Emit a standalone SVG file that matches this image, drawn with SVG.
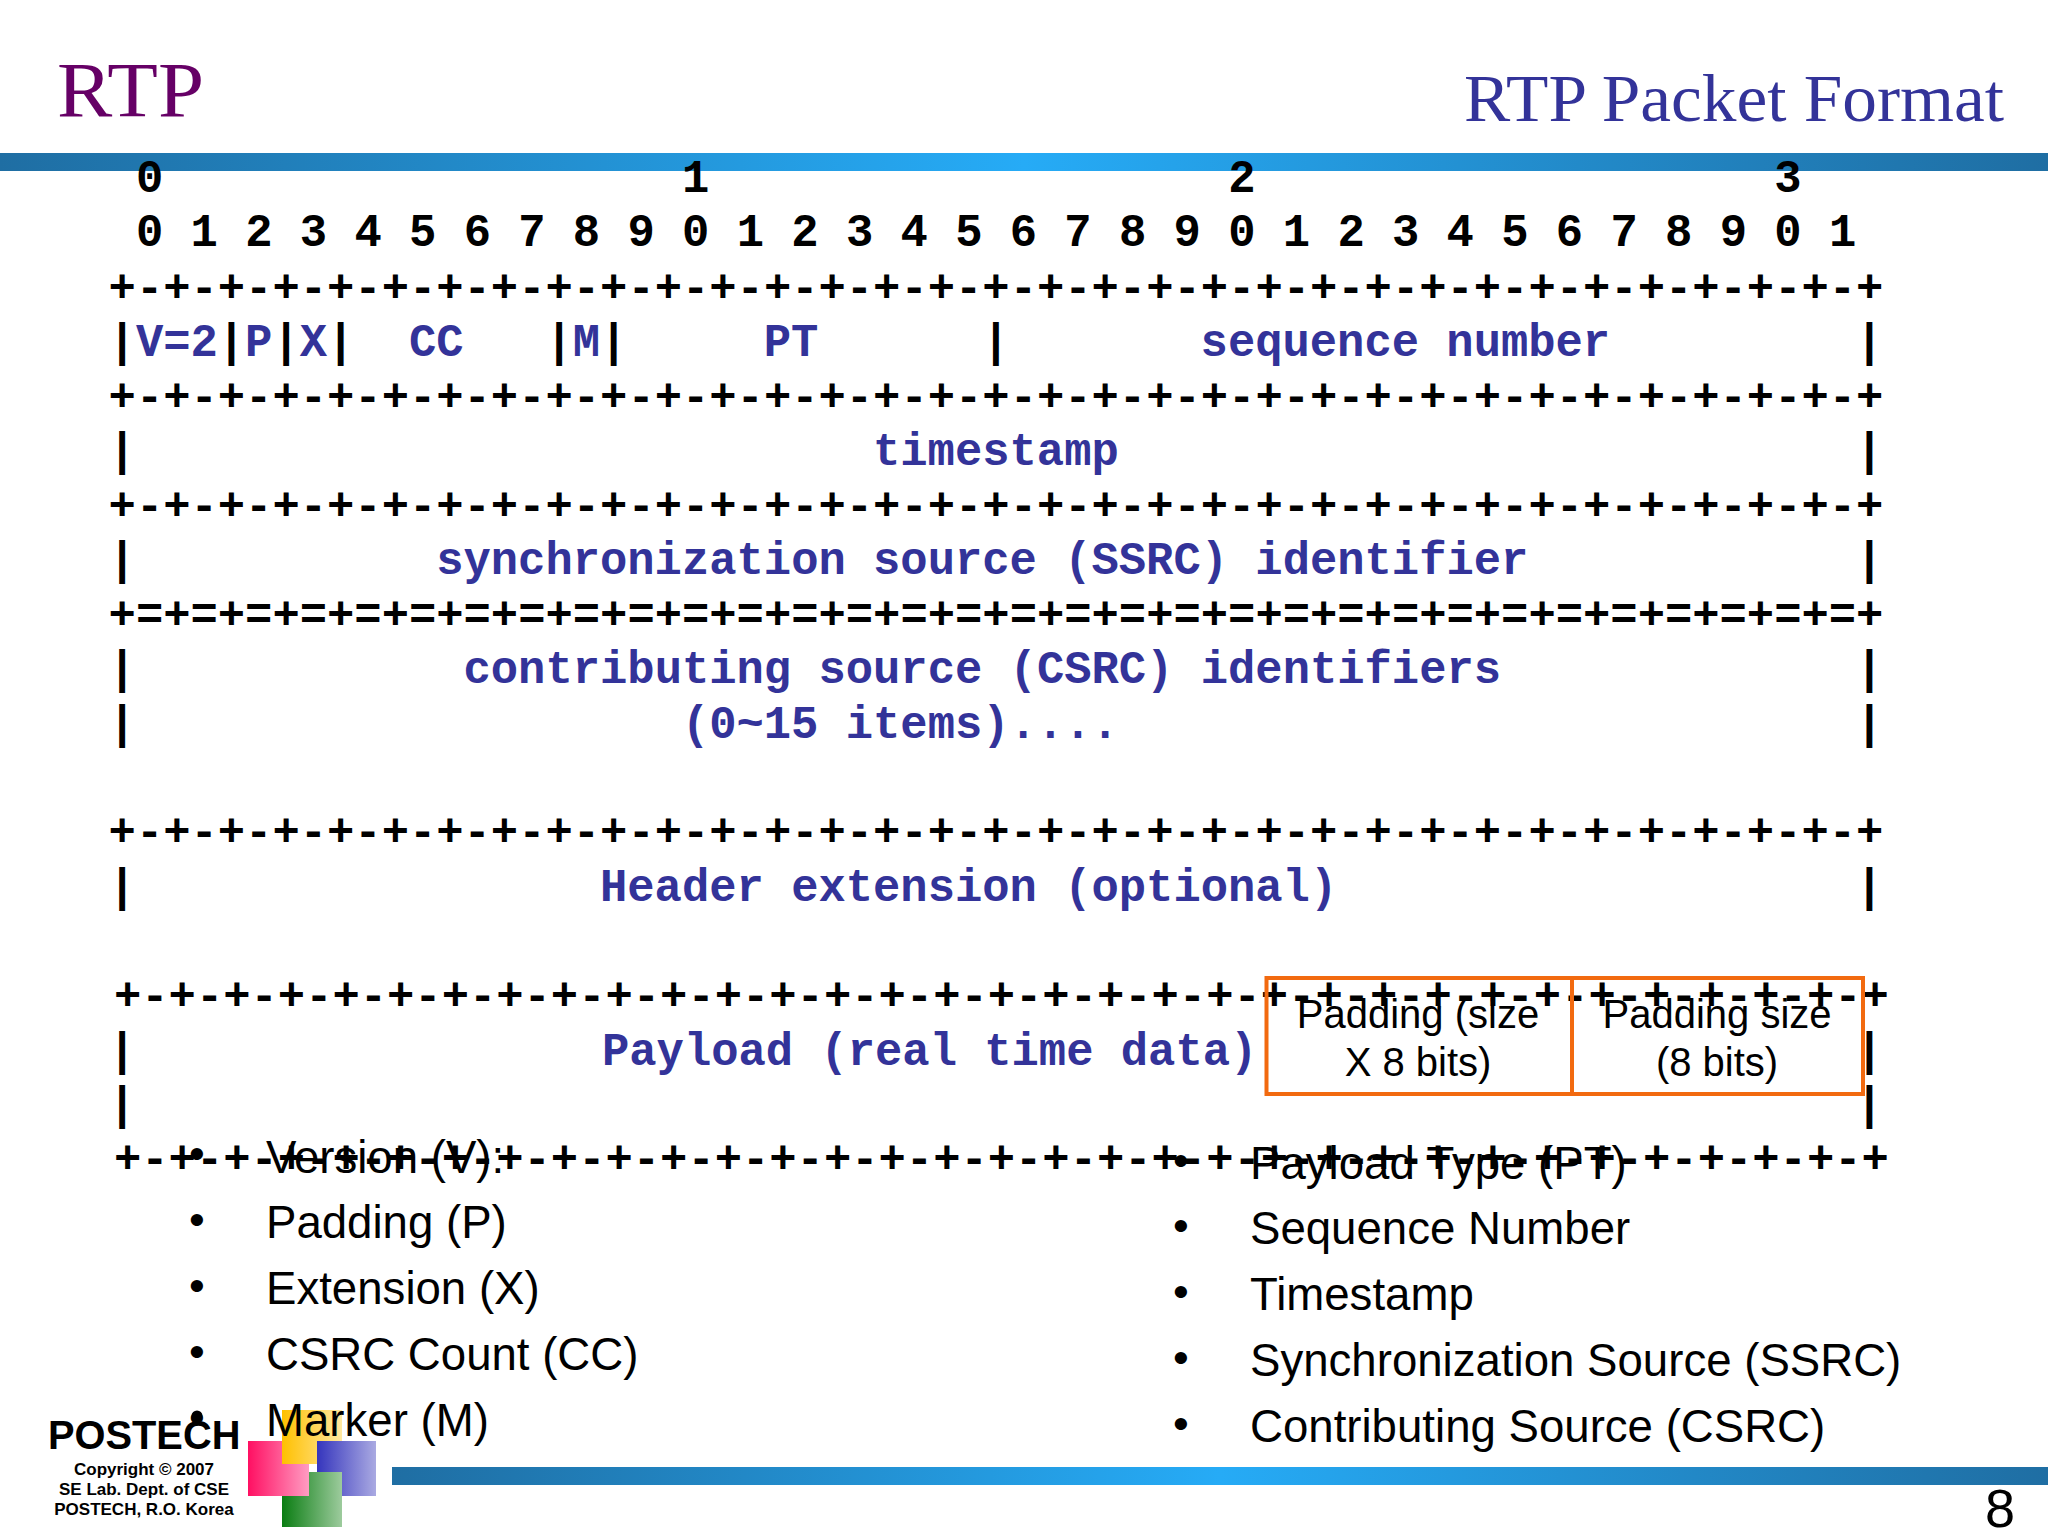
<svg xmlns="http://www.w3.org/2000/svg" width="2048" height="1536" viewBox="0 0 2048 1536">
<style>
text{white-space:pre}
.m{font-family:"Liberation Mono",monospace;font-weight:700;font-size:45.5px;fill:#000}
.b{fill:#333399}
.s{font-family:"Liberation Sans",Arial,sans-serif;fill:#000}
.l{font-size:45.6px}
.p{font-size:40px;text-anchor:middle}
.d{font-size:45px;text-anchor:middle}
.c{font-size:17px;font-weight:700;text-anchor:middle}
.box{fill:none;stroke:#f26a10;stroke-width:4}
</style>
<defs>
<linearGradient id="bar" x1="0" x2="1" y1="0" y2="0"><stop offset="0" stop-color="#1f6ea3"/><stop offset=".5" stop-color="#26abf6"/><stop offset="1" stop-color="#1f6ea3"/></linearGradient>
<linearGradient id="gy" gradientUnits="userSpaceOnUse" x1="282" x2="342" y1="0" y2="0"><stop offset="0" stop-color="#ffc000"/><stop offset="1" stop-color="#ffe8a0"/></linearGradient>
<linearGradient id="gp" gradientUnits="userSpaceOnUse" x1="248" x2="309" y1="0" y2="0"><stop offset="0" stop-color="#ff0f62"/><stop offset="1" stop-color="#ff9cc2"/></linearGradient>
<linearGradient id="gb" gradientUnits="userSpaceOnUse" x1="317" x2="376" y1="0" y2="0"><stop offset="0" stop-color="#3535bd"/><stop offset="1" stop-color="#aaaae2"/></linearGradient>
<linearGradient id="gg" gradientUnits="userSpaceOnUse" x1="282" x2="342" y1="0" y2="0"><stop offset="0" stop-color="#0a7d12"/><stop offset="1" stop-color="#9dcb9d"/></linearGradient>
</defs>
<rect width="2048" height="1536" fill="#fff"/>
<g id="bars">
<rect x="0" y="153" width="2048" height="18" fill="url(#bar)"/>
<rect x="392" y="1467" width="1656" height="18" fill="url(#bar)"/>
</g>
<g id="titles">
<text x="57" y="116" font-family="Liberation Serif,serif" font-size="78" fill="#660066" textLength="147" lengthAdjust="spacingAndGlyphs">RTP</text>
<text x="1464" y="121" font-family="Liberation Serif,serif" font-size="68" fill="#333399" textLength="540" lengthAdjust="spacingAndGlyphs">RTP Packet Format</text>
</g>
<g id="logo">
<rect x="282" y="1472" width="60" height="55" fill="url(#gg)"/>
<rect x="248" y="1441" width="61" height="55" fill="url(#gp)"/>
<rect x="282" y="1410" width="60" height="54" fill="url(#gy)"/>
<rect x="317" y="1441" width="59" height="55" fill="url(#gb)"/>
<rect x="317" y="1472" width="25" height="24" fill="url(#gg)"/>
<circle cx="197" cy="1416" r="5.5" fill="#000"/>
<text class="s" x="48" y="1449" font-size="39.8" font-weight="700">POSTECH</text>
<text class="s c" x="144" y="1475">Copyright © 2007</text>
<text class="s c" x="144" y="1495">SE Lab. Dept. of CSE</text>
<text class="s c" x="144" y="1515">POSTECH, R.O. Korea</text>
</g>
<g id="format">
<text class="m" x="136" y="191.5">0                   1                   2                   3</text>
<text class="m" x="136" y="246">0 1 2 3 4 5 6 7 8 9 0 1 2 3 4 5 6 7 8 9 0 1 2 3 4 5 6 7 8 9 0 1</text>
<text class="m" x="108.6" y="301.5">+-+-+-+-+-+-+-+-+-+-+-+-+-+-+-+-+-+-+-+-+-+-+-+-+-+-+-+-+-+-+-+-+</text>
<text class="m" x="108.6" y="356">|</text><text class="m b" x="136" y="356">V=2</text><text class="m" x="217.8" y="356">|</text><text class="m b" x="245.1" y="356">P</text><text class="m" x="272.4" y="356">|</text><text class="m b" x="299.7" y="356">X</text><text class="m" x="327" y="356">|</text><text class="m b" x="408.9" y="356">CC</text><text class="m" x="545.4" y="356">|</text><text class="m b" x="572.7" y="356">M</text><text class="m" x="600" y="356">|</text><text class="m b" x="763.8" y="356">PT</text><text class="m" x="982.2" y="356">|</text><text class="m b" x="1200.6" y="356">sequence number</text><text class="m" x="1855.8" y="356">|</text>
<text class="m" x="108.6" y="410.5">+-+-+-+-+-+-+-+-+-+-+-+-+-+-+-+-+-+-+-+-+-+-+-+-+-+-+-+-+-+-+-+-+</text>
<text class="m" x="108.6" y="465">|</text><text class="m b" x="873" y="465">timestamp</text><text class="m" x="1855.8" y="465">|</text>
<text class="m" x="108.6" y="519.5">+-+-+-+-+-+-+-+-+-+-+-+-+-+-+-+-+-+-+-+-+-+-+-+-+-+-+-+-+-+-+-+-+</text>
<text class="m" x="108.6" y="574">|</text><text class="m b" x="436.2" y="574">synchronization source (SSRC) identifier</text><text class="m" x="1855.8" y="574">|</text>
<text class="m" x="108.6" y="628.5">+=+=+=+=+=+=+=+=+=+=+=+=+=+=+=+=+=+=+=+=+=+=+=+=+=+=+=+=+=+=+=+=+</text>
<text class="m" x="108.6" y="683">|</text><text class="m b" x="463.5" y="683">contributing source (CSRC) identifiers</text><text class="m" x="1855.8" y="683">|</text>
<text class="m" x="108.6" y="737.5">|</text><text class="m b" x="681.9" y="737.5">(0~15 items)....</text><text class="m" x="1855.8" y="737.5">|</text>
<text class="m" x="108.6" y="846">+-+-+-+-+-+-+-+-+-+-+-+-+-+-+-+-+-+-+-+-+-+-+-+-+-+-+-+-+-+-+-+-+</text>
<text class="m" x="108.6" y="901">|</text><text class="m b" x="600" y="901">Header extension (optional)</text><text class="m" x="1855.8" y="901">|</text>
<text class="m" x="114" y="1010">+-+-+-+-+-+-+-+-+-+-+-+-+-+-+-+-+-+-+-+-+-+-+-+-+-+-+-+-+-+-+-+-+</text>
<text class="m" x="108.6" y="1064.5">|</text><text class="m b" x="602" y="1064.5">Payload (real time data)</text><text class="m" x="1855.8" y="1064.5">|</text>
<text class="m" x="108.6" y="1119">|</text><text class="m" x="1855.8" y="1119">|</text>
<text class="m" x="114" y="1173">+-+-+-+-+-+-+-+-+-+-+-+-+-+-+-+-+-+-+-+-+-+-+-+-+-+-+-+-+-+-+-+-+</text>
</g>
<g id="padding">
<rect class="box" x="1266.5" y="978" width="305.5" height="116"/>
<rect class="box" x="1572" y="978" width="291" height="116"/>
<text class="s p" x="1418" y="1028">Padding (size</text>
<text class="s p" x="1418" y="1076">X 8 bits)</text>
<text class="s p" x="1717" y="1028">Padding size</text>
<text class="s p" x="1717" y="1076">(8 bits)</text>
</g>
<g id="list-left">
<text class="s d" x="197" y="1169">•</text><text class="s l" x="266" y="1172.5">Version (V):</text>
<text class="s d" x="197" y="1235">•</text><text class="s l" x="266" y="1238">Padding (P)</text>
<text class="s d" x="197" y="1301">•</text><text class="s l" x="266" y="1304">Extension (X)</text>
<text class="s d" x="197" y="1367">•</text><text class="s l" x="266" y="1370">CSRC Count (CC)</text>
<text class="s d" x="197" y="1433">•</text><text class="s l" x="266" y="1436">Marker (M)</text>
</g>
<g id="list-right">
<text class="s d" x="1181" y="1176">•</text><text class="s l" x="1250" y="1179">Payload Type (PT)</text>
<text class="s d" x="1181" y="1241">•</text><text class="s l" x="1250" y="1244">Sequence Number</text>
<text class="s d" x="1181" y="1307">•</text><text class="s l" x="1250" y="1310">Timestamp</text>
<text class="s d" x="1181" y="1373">•</text><text class="s l" x="1250" y="1376">Synchronization Source (SSRC)</text>
<text class="s d" x="1181" y="1439">•</text><text class="s l" x="1250" y="1442">Contributing Source (CSRC)</text>
</g>
<text id="page" class="s" x="2000" y="1527" text-anchor="middle" font-size="54">8</text>
</svg>
